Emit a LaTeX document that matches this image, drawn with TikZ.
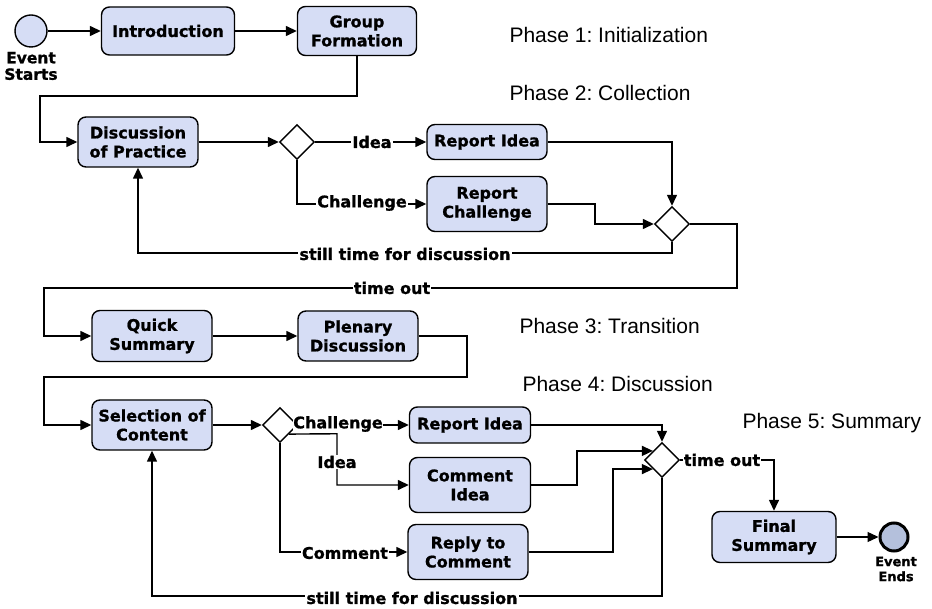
\documentclass[tikz,border=0pt]{standalone}
\usepackage{fontspec}
\setmainfont{DejaVu Sans}
\newfontfamily\heavyfont{DejaVu Sans Bold}[FakeBold=1.1]
\newfontfamily\phasefont{Liberation Sans}
\usetikzlibrary{shapes.geometric,arrows.meta}
\frenchspacing

\definecolor{actfill}{RGB}{214,221,245}
\definecolor{endfill}{RGB}{180,192,220}

\tikzset{
  activity/.style={draw, line width=1.4pt, rounded corners=8pt, fill=actfill,
    align=center, inner sep=0pt, font=\heavyfont\fontsize{16}{19}\selectfont},
  gateway/.style={draw, line width=1.4pt, diamond, aspect=1, fill=white,
    inner sep=0pt, minimum width=35pt, minimum height=35pt},
  flow/.style={line width=1.4pt, -{Triangle[length=11pt,width=10pt]}},
  elabel/.style={fill=white, inner sep=1pt, font=\heavyfont\fontsize{16}{19}\selectfont},
  phase/.style={anchor=west, font=\phasefont\fontsize{21}{24}\selectfont},
}

\begin{document}
\begin{tikzpicture}[x=1pt, y=-1pt]
  \useasboundingbox[fill=white] (0,0) rectangle (932,609);

  % Phase headings
  \node[phase] (p1) at (506,35)  {Phase 1: Initialization};
  \node[phase] (p2) at (506,93)  {Phase 2: Collection};
  \node[phase] (p3) at (516,326) {Phase 3: Transition};
  \node[phase] (p4) at (519,384) {Phase 4: Discussion};
  \node[phase] (p5) at (739,423) {Phase 5: Summary};

  % Start event
  \node[circle, draw, line width=1.4pt, fill=actfill, minimum size=32pt, inner sep=0pt] (start) at (31,31) {};
  \node[font=\heavyfont\fontsize{15.5}{16.5}\selectfont, align=center] (startlbl) at (31,66) {Event\\Starts};

  % Phase 1
  \node[activity, minimum width=133pt, minimum height=48pt] (intro) at (168,31) {Introduction};
  \node[activity, minimum width=119pt, minimum height=49pt] (group) at (357,31) {Group\\Formation};

  % Phase 2
  \node[activity, minimum width=120pt, minimum height=50pt] (dop) at (138,142) {Discussion\\of Practice};
  \node[gateway] (g1) at (297,142) {};
  \node[activity, minimum width=120pt, minimum height=35pt] (ri1) at (487,142) {Report Idea};
  \node[activity, minimum width=120pt, minimum height=55pt] (rc) at (487,204) {Report\\Challenge};
  \node[gateway] (g2) at (672,224) {};

  % Phase 3
  \node[activity, minimum width=120pt, minimum height=51pt] (qs) at (152,336) {Quick\\Summary};
  \node[activity, minimum width=120pt, minimum height=50pt] (pd) at (358,336) {Plenary\\Discussion};

  % Phase 4
  \node[activity, minimum width=120pt, minimum height=50pt] (soc) at (152,425) {Selection of\\Content};
  \node[gateway] (g3) at (280,425) {};
  \node[activity, minimum width=121pt, minimum height=36pt] (ri2) at (470,425) {Report Idea};
  \node[activity, minimum width=121pt, minimum height=55pt] (ci) at (470,485) {Comment\\Idea};
  \node[activity, minimum width=120pt, minimum height=55pt] (rtc) at (468,552) {Reply to\\Comment};
  \node[gateway] (g4) at (662,460) {};

  % Phase 5
  \node[activity, minimum width=124pt, minimum height=51pt] (fs) at (774,537) {Final\\Summary};
  \node[circle, draw, line width=3pt, fill=endfill, minimum size=28pt, inner sep=0pt] (stop) at (894,537) {};
  \node[font=\heavyfont\fontsize{13}{15}\selectfont, align=center] (stoplbl) at (896,569) {Event\\Ends};

  % Flows, phase 1
  \draw[flow] (start) -- (intro);
  \draw[flow] (intro) -- (group);
  \draw[flow] (group.south) -- (357,96) -- (40,96) |- (dop.west);

  % Flows, phase 2
  \draw[flow] (dop) -- (g1);
  \draw[flow] (g1.east) -- (ri1.west);
  \node[elabel] (lidea1) at (372,142) {Idea};
  \draw[flow] (g1.south) |- (rc.west);
  \node[elabel] (lchal1) at (362,203) {Challenge};
  \draw[flow] (ri1.east) -| (g2.north);
  \draw[flow] (rc.east) -- (595,204) |- (g2.west);
  \draw[flow] (g2.south) -- (672,253) -| (dop.south);
  \node[elabel] (lstill1) at (405,254) {still time for discussion};

  % Flows, phase 3
  \draw[flow] (g2.east) -- (737,224) -- (737,288) -- (44,288) |- (qs.west);
  \node[elabel] (ltime1) at (392,288) {time out};
  \draw[flow] (qs) -- (pd);
  \draw[flow] (pd.east) -- (467,336) -- (467,377) -- (44,377) |- (soc.west);

  % Flows, phase 4
  \draw[flow] (soc) -- (g3);
  \draw[flow] (g3.east) -- (ri2.west);
  \node[elabel, inner sep=0pt] (lchal2) at (338,424) {Challenge};
  \draw[flow] (g3.south east) -- (337,433.75) |- (ci.west);
  \node[elabel] (lidea2) at (337,462) {Idea};
  \draw[flow] (g3.south) |- (rtc.west);
  \node[elabel] (lcomm) at (345,553) {Comment};
  \draw[flow] (ri2.east) -| (g4.north);
  \draw[flow] (ci.east) -- (577,485) |- (g4.north west);
  \draw[flow] (rtc.east) -- (613,552) |- (g4.south west);
  \draw[flow] (g4.south) -- (662,596) -| (soc.south);
  \node[elabel] (lstill2) at (412,598) {still time for discussion};

  % Flows, phase 5
  \draw[flow] (g4.east) -| (fs.north);
  \node[elabel] (ltime2) at (722,460) {time out};
  \draw[flow] (fs) -- (stop);
\end{tikzpicture}
\end{document}
